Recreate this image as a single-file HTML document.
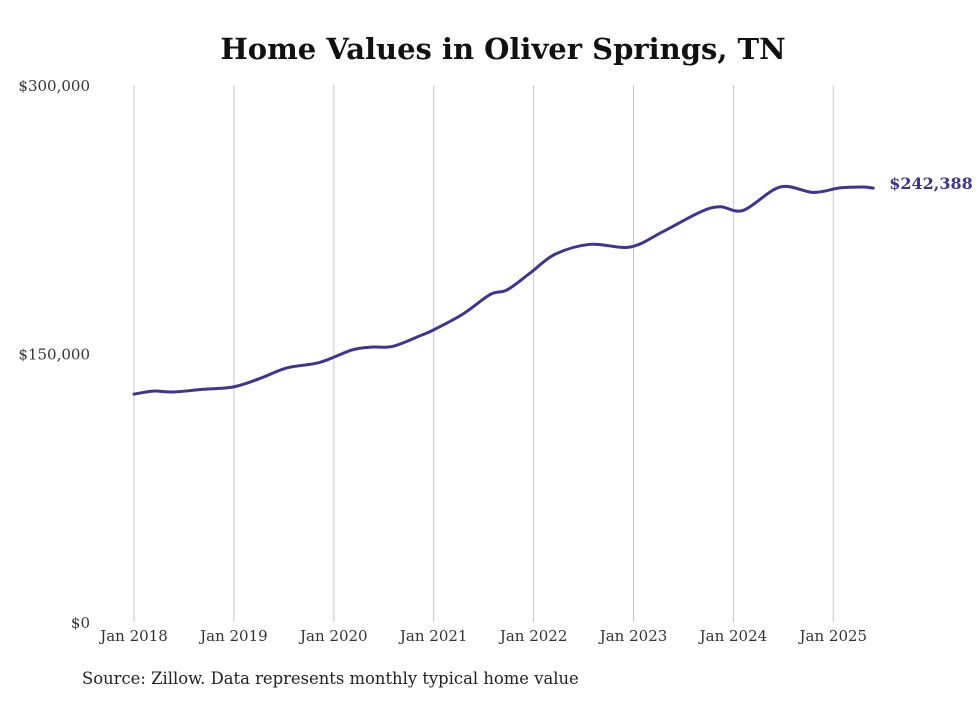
<!DOCTYPE html>
<html><head><meta charset="utf-8">
<style>
body{margin:0;background:#fff;width:980px;height:699px;overflow:hidden;font-family:"DejaVu Serif","Liberation Serif",serif;}
</style></head>
<body>
<svg id="chart" width="980" height="699" xmlns="http://www.w3.org/2000/svg">
<text x="503" y="59" text-anchor="middle" font-family="DejaVu Serif, serif" font-weight="bold" font-size="29" fill="#111">Home Values in Oliver Springs, TN</text>
<g id="grid"></g>
<g id="yaxis"></g>
<g id="xaxis"></g>
<g id="series"></g>
<text x="82" y="684" font-family="DejaVu Serif, serif" font-size="16.4" fill="#222">Source: Zillow. Data represents monthly typical home value</text>
</svg>
<script>
const yearLabels = ["Jan 2018","Jan 2019","Jan 2020","Jan 2021","Jan 2022","Jan 2023","Jan 2024","Jan 2025"];
const yTicks = [0,150000,300000];
const yTickLabels = ["$0","$150,000","$300,000"];
const months = [0,2.3,4.7,8.3,11.9,15.1,18.4,22.3,26.2,28.7,31.1,34.4,35.9,39.5,42.8,44.8,47.6,50.6,54.8,59.6,63.5,68,70.4,73.2,77.6,81.6,84.8,87.6,88.8];
const values = [127300,129000,128500,130000,131300,136000,142000,145000,152000,153600,154000,160000,163000,172000,183000,185500,195000,205500,211000,209500,218000,229000,232000,230000,243000,240000,242500,243000,242388];
const lastLabel = "$242,388";

const NS="http://www.w3.org/2000/svg";
const x0=134, pxYear=99.9;
const xS=m=>x0+m/12*pxYear;
const yS=v=>622-v/150000*268.5;
const grid=document.getElementById('grid'), xa=document.getElementById('xaxis'), ya=document.getElementById('yaxis'), ser=document.getElementById('series');
function mk(tag,attrs,parent){const e=document.createElementNS(NS,tag);for(const k in attrs)e.setAttribute(k,attrs[k]);parent.appendChild(e);return e;}
yearLabels.forEach((l,i)=>{
  const x=xS(i*12);
  const g=mk('line',{x1:x,x2:x,y1:85,y2:622,stroke:'#c8c8c8','stroke-width':1},grid);
  
  
  const t=mk('text',{x:x,y:641,'text-anchor':'middle','font-size':15,fill:'#333'},xa);
  t.textContent=l;
  
  
});
yTicks.forEach((v,i)=>{
  const t=mk('text',{x:90,y:yS(v)+6,'text-anchor':'end','font-size':15,fill:'#333'},ya);
  t.textContent=yTickLabels[i];
  
  
});
const pts=months.map((m,i)=>[xS(m),yS(values[i])]);
let d=`M${pts[0][0]},${pts[0][1]}`;
for(let i=0;i<pts.length-1;i++){
  const p0=pts[Math.max(0,i-1)],p1=pts[i],p2=pts[i+1],p3=pts[Math.min(pts.length-1,i+2)];
  const c1=[p1[0]+(p2[0]-p0[0])/6,p1[1]+(p2[1]-p0[1])/6];
  const c2=[p2[0]-(p3[0]-p1[0])/6,p2[1]-(p3[1]-p1[1])/6];
  d+=` C${c1[0]},${c1[1]} ${c2[0]},${c2[1]} ${p2[0]},${p2[1]}`;
}
const line=mk('path',{d:d,fill:'none',stroke:'#3c3592','stroke-width':3,'stroke-linejoin':'round','stroke-linecap':'round'},ser);


const last=pts[pts.length-1];
const lt=mk('text',{x:last[0]+16,y:last[1]+1,'font-size':16,'font-weight':'bold',fill:'#3c3592'},ser);
lt.textContent=lastLabel;


</script>
</body></html>
